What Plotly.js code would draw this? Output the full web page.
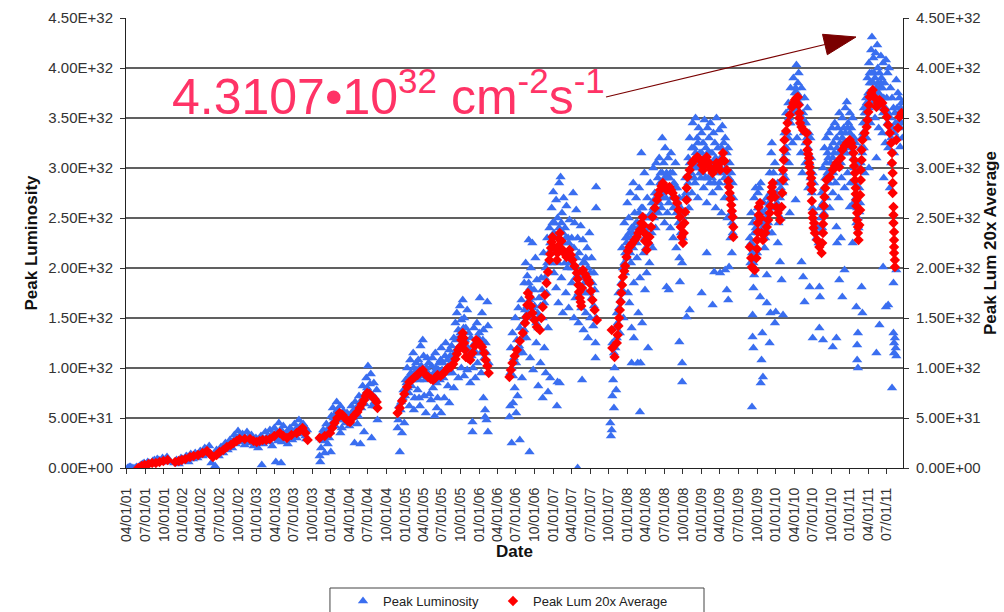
<!DOCTYPE html>
<html>
<head>
<meta charset="utf-8">
<script src="https://cdn.plot.ly/plotly-3.0.1.min.js"></script>
<style>
  html, body { margin: 0; padding: 0; background: #ffffff; }
  #chart { width: 1004px; height: 612px; }
</style>
</head>
<body>
<div id="chart"></div>
<script>
// Luminosity values are kept in units of 1e32 cm^-2 s^-1; dates as decimal years.
const LUM_UNIT = 1e32;
const RECORD_PEAK = 4.3107;          // highest single-store peak luminosity
const RECORD_DATE = 2011.30;

// ---- Peak luminosity per store: [decimal year, luminosity / 1e32] ----
const peakRun2001_03 = [
  [2001.26,0.00],[2001.30,0.01],[2001.33,0.00],[2001.36,0.00],[2001.42,0.02],[2001.46,0.04],[2001.50,0.03],[2001.53,0.06],
  [2001.57,0.04],[2001.60,0.07],[2001.63,0.05],[2001.66,0.09],[2001.70,0.06],[2001.73,0.10],[2001.76,0.08],[2001.79,0.11],[2001.81,0.06],
  [2001.28,0.01],[2001.38,0.01],[2001.44,0.03],[2001.48,0.05],[2001.55,0.05],[2001.62,0.08],[2001.68,0.08],[2001.75,0.06],[2001.78,0.09],
  [2001.89,0.05],[2001.92,0.08],[2001.95,0.04],[2001.98,0.10],[2002.02,0.07],[2002.05,0.12],[2002.08,0.06],[2002.11,0.14],
  [2002.14,0.09],[2002.17,0.15],[2002.20,0.10],[2002.24,0.17],[2002.27,0.12],[2002.30,0.20],[2002.33,0.13],[2002.36,0.22],
  [2002.39,0.05],[2002.44,0.02],[2002.43,0.14],
  [2001.91,0.06],[2001.97,0.08],[2002.00,0.09],[2002.04,0.10],[2002.07,0.11],[2002.10,0.09],[2002.13,0.12],[2002.16,0.12],
  [2002.19,0.13],[2002.22,0.14],[2002.26,0.15],[2002.29,0.16],[2002.32,0.18],[2002.35,0.16],
  [2002.46,0.18],[2002.49,0.12],[2002.52,0.21],[2002.55,0.15],[2002.58,0.25],[2002.61,0.18],[2002.64,0.28],[2002.67,0.20],
  [2002.70,0.33],[2002.72,0.24],[2002.75,0.37],[2002.78,0.26],[2002.81,0.34],[2002.84,0.23],[2002.87,0.36],[2002.90,0.25],
  [2002.93,0.33],[2002.96,0.22],[2002.99,0.30],[2003.02,0.20],[2003.07,0.03],
  [2002.48,0.15],[2002.51,0.17],[2002.54,0.19],[2002.57,0.20],[2002.60,0.23],[2002.63,0.22],[2002.66,0.25],[2002.69,0.27],
  [2002.71,0.29],[2002.74,0.30],[2002.77,0.32],[2002.80,0.28],[2002.83,0.31],[2002.86,0.27],[2002.89,0.31],[2002.92,0.28],
  [2002.95,0.30],[2002.98,0.25],[2003.01,0.28],
  [2003.06,0.32],[2003.09,0.24],[2003.12,0.36],[2003.15,0.27],[2003.18,0.38],[2003.21,0.22],[2003.24,0.40],[2003.26,0.06],
  [2003.28,0.30],[2003.30,0.45],[2003.33,0.05],[2003.34,0.26],[2003.36,0.42],[2003.39,0.33],[2003.42,0.24],[2003.45,0.40],
  [2003.48,0.28],[2003.51,0.44],[2003.54,0.30],[2003.57,0.48],[2003.60,0.36],[2003.63,0.44],[2003.66,0.32],[2003.68,0.38],
  [2003.04,0.25],[2003.08,0.30],[2003.11,0.28],[2003.14,0.31],[2003.17,0.26],[2003.20,0.33],[2003.23,0.29],[2003.27,0.36],
  [2003.29,0.27],[2003.33,0.38],[2003.38,0.29],[2003.41,0.36],[2003.44,0.31],[2003.47,0.37],[2003.50,0.33],[2003.53,0.39],
  [2003.56,0.34],[2003.59,0.42],[2003.62,0.38],[2003.65,0.41],[2003.67,0.29]
];
const peakRun2004 = [
  [2003.85,0.12],[2003.86,0.06],[2003.87,0.20],[2003.89,0.28],[2003.90,0.38],[2003.92,0.15],[2003.94,0.44],[2003.96,0.24],
  [2003.98,0.30],[2004.00,0.16],
  [2004.01,0.52],[2004.03,0.60],[2004.06,0.42],[2004.08,0.66],[2004.10,0.48],[2004.13,0.62],[2004.15,0.40],[2004.17,0.57],
  [2004.20,0.45],[2004.13,0.35],
  [2004.22,0.55],[2004.25,0.42],[2004.28,0.62],[2004.30,0.50],[2004.33,0.66],[2004.36,0.44],[2004.38,0.72],[2004.41,0.60],
  [2004.43,0.82],[2004.46,0.64],[2004.48,0.90],[2004.50,1.02],[2004.52,0.76],[2004.54,0.94],[2004.56,0.62],[2004.58,0.85],
  [2004.60,0.70],[2004.62,0.78],[2004.63,0.48],[2004.55,0.30],[2004.45,0.36],[2004.40,0.24],[2004.32,0.25],
  [2003.86,0.30],[2003.88,0.34],[2003.91,0.27],[2003.93,0.36],[2003.95,0.32],[2003.97,0.40],[2003.99,0.36],[2004.02,0.45],
  [2004.04,0.50],[2004.07,0.55],[2004.09,0.58],[2004.11,0.53],[2004.14,0.50],[2004.16,0.48],[2004.18,0.52],[2004.21,0.49],
  [2004.23,0.47],[2004.26,0.52],[2004.27,0.45],[2004.29,0.55],[2004.31,0.58],[2004.34,0.55],[2004.35,0.60],[2004.37,0.52],
  [2004.39,0.64],[2004.42,0.68],[2004.44,0.70],[2004.47,0.75],[2004.49,0.80],[2004.51,0.70],[2004.53,0.84],[2004.57,0.72],
  [2004.59,0.66],[2004.61,0.62]
];
const peakRun2005_06 = [
  [2004.90,0.40],[2004.91,0.48],[2004.93,0.16],[2004.94,0.58],[2004.96,0.35],[2004.97,0.70],[2004.99,0.45],
  [2005.01,0.88],[2005.03,1.00],[2005.05,0.75],[2005.07,1.08],[2005.09,0.82],[2005.11,1.15],[2005.13,0.70],[2005.15,1.05],[2005.17,0.78],
  [2005.21,1.22],[2005.24,1.28],[2005.27,0.88],[2005.30,1.10],[2005.33,0.74],[2005.36,1.02],[2005.38,0.80],[2005.41,1.15],
  [2005.44,0.70],[2005.46,1.05],
  [2005.20,0.62],[2005.28,0.55],[2005.40,0.52],[2005.49,0.55],
  [2005.49,1.20],[2005.52,0.90],[2005.55,1.25],[2005.58,0.82],[2005.61,1.12],[2005.64,0.95],[2005.66,1.30],
  [2005.68,1.45],[2005.70,1.55],[2005.72,1.38],[2005.74,1.62],[2005.76,1.48],[2005.78,1.68],[2005.80,1.50],[2005.82,1.40],
  [2005.84,1.58],[2005.86,1.35],
  [2006.01,1.70],[2006.04,1.55],[2006.11,1.66],[2006.12,1.42],
  [2005.84,0.98],[2005.88,0.85],[2005.92,1.00],[2005.95,0.90],[2005.98,1.05],[2006.03,0.95],[2006.06,0.70],[2006.08,0.58],[2006.10,0.48],
  [2005.91,0.36],[2006.12,0.36],[2006.08,0.51],[2005.91,0.46],
  [2005.89,1.30],[2005.93,1.40],[2005.97,1.45],[2006.00,1.35],[2006.06,1.38],[2006.09,1.25],
  [2005.06,0.62],[2005.12,0.58],[2005.19,0.70],[2005.26,0.72],[2005.35,0.68],[2005.43,0.60],[2005.53,0.70],[2005.60,0.65],
  [2005.66,0.80],[2005.72,0.90],[2005.76,1.00],[2005.80,0.92],
  [2004.92,0.62],[2004.95,0.66],[2004.98,0.78],[2005.00,0.72],[2005.02,0.85],[2005.04,0.80],[2005.06,0.92],[2005.08,0.95],
  [2005.10,0.88],[2005.12,1.00],[2005.14,0.92],[2005.16,0.98],[2005.18,1.08],[2005.19,0.88],[2005.22,1.02],[2005.23,0.92],
  [2005.25,1.12],[2005.26,0.95],[2005.29,1.00],[2005.31,0.95],[2005.32,1.05],[2005.34,0.90],[2005.37,1.10],[2005.39,0.95],
  [2005.42,1.00],[2005.43,0.85],[2005.45,0.98],[2005.47,0.88],[2005.48,1.08],[2005.50,0.98],[2005.51,1.05],[2005.53,0.95],
  [2005.54,1.12],[2005.56,1.00],[2005.57,1.08],[2005.59,0.95],[2005.60,1.18],[2005.62,1.05],[2005.63,1.22],[2005.65,1.10],
  [2005.67,1.15],[2005.69,1.28],[2005.71,1.20],[2005.73,1.30],[2005.75,1.35],[2005.77,1.25],[2005.79,1.40],[2005.81,1.28],
  [2005.83,1.22],[2005.85,1.15],[2005.87,1.18],[2005.90,1.12],[2005.94,1.25],[2005.96,1.15],[2005.99,1.30],[2006.02,1.15],
  [2006.05,1.28],[2006.07,1.10],[2006.10,1.15],[2006.13,1.05]
];
const peakRun2006_07 = [
  [2006.41,0.51],[2006.42,0.62],[2006.44,0.25],[2006.46,0.65],[2006.48,0.80],[2006.50,0.55],[2006.52,0.72],[2006.55,0.28],
  [2006.58,0.90],[2006.68,0.16],
  [2006.43,1.20],[2006.45,1.35],[2006.47,1.10],[2006.49,1.50],[2006.51,1.28],[2006.53,1.60],[2006.55,1.40],[2006.57,1.68],[2006.59,1.15],
  [2006.61,1.85],[2006.63,2.05],[2006.65,1.92],[2006.67,2.28],[2006.70,2.00],[2006.72,2.25],[2006.74,1.78],[2006.76,2.10],[2006.78,1.88],
  [2006.64,1.30],[2006.69,1.10],[2006.73,0.98],[2006.77,1.25],[2006.80,0.82],[2006.83,1.05],[2006.86,0.70],[2006.88,1.20],
  [2006.90,0.95],[2006.93,1.40],[2006.96,0.90],[2007.05,0.62],[2007.09,0.85],
  [2006.81,1.70],[2006.84,1.90],[2006.87,2.15],[2006.90,2.00],[2006.92,2.30],
  [2006.95,2.40],[2006.98,2.60],[2007.00,2.76],[2007.02,2.45],[2007.04,2.68],[2007.06,2.50],[2007.08,2.85],[2007.10,2.91],
  [2007.12,2.55],[2007.14,2.70],[2007.16,2.40],[2007.18,2.62],[2007.20,2.30],[2007.22,2.48],[2007.24,2.20],[2007.27,2.75],
  [2007.29,2.45],[2007.31,2.58],[2007.33,2.30],[2007.35,2.15],[2007.37,2.42],[2007.40,2.28],[2007.43,2.05],[2007.46,2.20],
  [2007.49,2.35],[2007.52,2.10],[2007.55,1.95],[2007.58,2.81],[2007.58,2.60],
  [2007.01,1.95],[2007.04,1.80],[2007.07,1.65],[2007.11,1.90],[2007.13,1.55],[2007.17,1.75],[2007.21,1.60],[2007.25,1.85],
  [2007.28,1.50],[2007.30,1.70],[2007.34,1.45],[2007.38,1.60],[2007.41,1.38],[2007.44,1.55],[2007.47,1.30],[2007.50,1.50],
  [2007.54,1.42],[2007.57,1.25],
  [2007.57,1.10],[2007.39,0.88],[2007.33,0.00],[2006.93,0.76],[2007.06,0.86],
  [2006.42,0.95],[2006.44,1.00],[2006.46,0.92],[2006.50,1.05],[2006.52,1.15],[2006.54,1.22],[2006.56,1.18],[2006.58,1.30],
  [2006.60,1.45],[2006.61,1.38],[2006.62,1.58],[2006.63,1.52],[2006.65,1.62],[2006.66,1.55],[2006.67,1.85],[2006.68,1.68],
  [2006.69,1.80],[2006.71,1.70],[2006.72,1.60],[2006.73,1.50],[2006.75,1.62],[2006.77,1.45],[2006.79,1.55],[2006.80,1.40],
  [2006.82,1.52],[2006.83,1.62],[2006.85,1.78],[2006.86,1.50],[2006.88,1.65],[2006.89,1.90],[2006.91,1.75],[2006.92,2.05],
  [2006.94,2.15],[2006.96,2.25],[2006.97,2.05],[2006.99,2.45],[2007.00,2.20],[2007.01,2.35],[2007.03,2.15],[2007.05,2.30],
  [2007.07,2.05],[2007.08,2.40],[2007.10,2.20],[2007.11,2.45],[2007.13,2.35],[2007.15,2.25],[2007.16,2.05],[2007.17,2.30],
  [2007.19,2.00],[2007.21,2.25],[2007.23,2.05],[2007.25,2.30],[2007.26,2.00],[2007.28,2.20],[2007.30,1.90],[2007.32,2.10],
  [2007.34,1.75],[2007.36,1.90],[2007.38,1.78],[2007.40,2.05],[2007.42,1.85],[2007.44,2.10],[2007.45,1.75],[2007.47,2.00],
  [2007.49,1.75],[2007.50,1.95],[2007.52,1.70],[2007.53,1.85],[2007.55,1.62],[2007.56,1.78],[2007.58,1.50]
];
const peakRun2008_09 = [
  [2007.77,0.45],[2007.78,0.32],[2007.79,0.38],[2007.80,0.72],[2007.81,0.88],[2007.82,0.60],[2007.83,1.00],[2007.85,0.78],
  [2007.84,1.40],[2007.86,1.55],[2007.88,1.75],[2007.90,1.35],[2007.92,1.85],[2007.95,1.50],
  [2007.93,2.20],[2007.96,2.45],[2007.98,2.30],[2008.00,2.65],[2008.02,2.50],[2008.04,2.75],[2008.06,2.40],[2008.08,2.85],
  [2008.10,2.55],[2008.12,2.70],[2008.14,2.45],[2008.16,2.80],[2008.19,3.15],[2008.21,2.60],[2008.23,2.95],[2008.25,2.50],
  [2008.27,2.70],[2008.29,2.40],[2008.31,2.85],[2008.33,2.65],[2008.35,3.00],[2008.37,2.75],[2008.39,3.05],[2008.41,2.90],
  [2008.43,3.10],[2008.45,2.95],[2008.47,3.30],[2008.49,3.05],[2008.51,3.20],[2008.53,2.95],[2008.55,3.10],[2008.57,2.90],
  [2008.59,3.15],[2008.61,2.95],[2008.63,2.85],[2008.65,3.05],[2008.67,2.80],
  [2007.97,1.95],[2008.01,1.75],[2008.05,2.05],[2008.09,1.85],[2008.13,2.10],[2008.17,1.90],[2008.22,2.15],[2008.26,1.95],
  [2008.30,2.05],[2008.34,2.20],[2008.38,2.40],[2008.42,2.55],[2008.46,2.60],[2008.50,2.45],[2008.54,2.55],[2008.58,2.40],
  [2008.62,2.30],[2008.66,2.20],[2008.70,2.10],[2008.74,2.05],
  [2008.03,1.65],[2008.06,1.40],[2008.09,1.30],[2008.15,1.55],[2008.20,1.45],[2008.24,1.78],[2008.28,1.20],[2008.18,1.05],
  [2008.06,1.05],[2008.14,1.05],[2008.17,0.56],
  [2008.53,1.81],[2008.56,1.78],[2008.70,1.26],[2008.74,1.05],[2008.74,0.86],[2008.71,1.86],[2008.80,1.51],
  [2008.72,2.60],[2008.76,2.70],[2008.78,2.90],
  [2008.82,3.10],[2008.84,3.30],[2008.86,2.95],[2008.88,3.45],[2008.90,3.20],[2008.92,3.50],[2008.94,3.30],[2008.96,3.40],
  [2008.98,3.15],[2009.00,3.35],[2009.02,3.25],[2009.04,3.48],[2009.06,3.20],[2009.08,3.40],[2009.10,3.30],[2009.12,3.45],
  [2009.14,3.15],[2009.16,3.35],[2009.18,3.25],[2009.20,3.50],[2009.22,3.20],[2009.24,3.38],[2009.26,3.10],[2009.28,3.42],
  [2009.30,3.25],[2009.32,3.30],[2009.34,3.15],[2009.36,3.20],[2009.38,3.05],[2009.40,2.95],[2009.42,2.85],[2009.43,2.70],
  [2008.83,2.60],[2008.87,2.75],[2008.91,2.85],[2008.95,2.70],[2008.99,2.90],[2009.03,2.80],[2009.07,2.65],[2009.11,2.85],
  [2009.15,2.75],[2009.19,2.60],[2009.23,2.80],[2009.27,2.55],[2009.31,2.70],[2009.35,2.50],[2009.39,2.30],[2009.41,2.15],
  [2008.84,1.58],[2009.00,1.75],[2009.07,2.15],[2009.15,1.63],[2009.17,1.96],[2009.25,1.95],[2009.32,1.98],[2009.34,1.78],
  [2009.36,1.68],[2009.37,2.01],
  [2007.80,1.25],[2007.82,1.15],[2007.84,1.20],[2007.86,1.30],[2007.87,1.45],[2007.89,1.60],[2007.91,1.68],[2007.93,1.78],
  [2007.94,2.00],[2007.96,2.05],[2007.97,2.15],[2007.99,2.25],[2008.00,2.10],[2008.01,2.30],[2008.03,2.35],[2008.04,2.15],
  [2008.05,2.30],[2008.07,2.35],[2008.08,2.20],[2008.09,2.40],[2008.11,2.30],[2008.12,2.45],[2008.13,2.25],[2008.15,2.40],
  [2008.16,2.55],[2008.18,2.35],[2008.19,2.60],[2008.20,2.45],[2008.22,2.40],[2008.24,2.30],[2008.25,2.20],[2008.27,2.35],
  [2008.28,2.50],[2008.30,2.25],[2008.32,2.55],[2008.33,2.35],[2008.35,2.60],[2008.36,2.50],[2008.38,2.70],[2008.40,2.55],
  [2008.41,2.75],[2008.43,2.65],[2008.44,2.85],[2008.46,2.75],[2008.47,2.95],[2008.48,2.70],[2008.50,2.90],[2008.52,2.70],
  [2008.54,2.90],[2008.56,2.65],[2008.58,2.95],[2008.60,2.70],[2008.62,2.60],[2008.64,2.80],[2008.66,2.55],[2008.68,2.65],
  [2008.69,2.45],[2008.70,2.70],[2008.72,2.35],[2008.74,2.50],[2008.75,2.30],[2008.77,2.55],[2008.79,2.75],[2008.81,2.70],
  [2008.82,2.85],[2008.84,3.05],[2008.85,2.90],[2008.87,3.20],[2008.89,3.00],[2008.90,2.90],[2008.92,3.15],[2008.93,3.00],
  [2008.95,3.25],[2008.97,3.05],[2008.98,2.95],[2009.00,3.15],[2009.01,2.95],[2009.03,3.10],[2009.05,2.90],[2009.06,3.00],
  [2009.08,3.15],[2009.09,2.90],[2009.11,3.15],[2009.13,3.05],[2009.14,2.90],[2009.16,3.05],[2009.17,2.85],[2009.19,3.10],
  [2009.21,2.95],[2009.22,3.05],[2009.24,2.85],[2009.26,3.00],[2009.27,3.20],[2009.29,2.95],[2009.30,3.05],[2009.31,2.90],
  [2009.33,3.00],[2009.35,2.85],[2009.37,2.90],[2009.38,2.70],[2009.40,2.55],[2009.41,2.45],[2009.42,2.35]
];
const peakRun2009_11 = [
  [2009.68,0.61],[2009.69,1.31],[2009.70,1.20],[2009.69,1.53],[2009.70,1.80],[2009.71,1.93],[2009.79,1.71],[2009.81,1.08],
  [2009.82,1.35],[2009.80,0.85],[2009.83,0.91],[2009.88,1.93],[2009.88,1.65],[2009.92,1.25],[2009.93,1.55],[2009.99,1.45],
  [2010.00,1.56],[2010.06,2.06],[2010.08,1.88],[2010.10,1.53],[2010.35,2.06],[2010.37,1.91],[2010.39,1.66],[2010.46,1.81],[2010.50,1.30],
  [2009.65,2.30],[2009.67,2.55],[2009.69,2.45],[2009.71,2.70],[2009.73,2.80],[2009.74,2.50],[2009.76,2.75],[2009.78,2.60],
  [2009.80,2.85],[2009.82,2.40],[2009.84,2.65],[2009.86,2.30],[2009.88,2.70],[2009.90,2.45],[2009.92,2.95],[2009.94,3.15],
  [2009.95,3.25],[2009.97,2.95],[2009.99,3.05],[2010.01,2.75],[2010.03,2.85],[2010.05,2.60],[2010.07,2.80],[2009.75,2.15],
  [2009.85,2.20],[2009.95,2.35],[2010.03,2.25],
  [2010.11,3.10],[2010.12,3.35],[2010.14,3.55],[2010.15,3.20],[2010.17,3.65],[2010.19,3.45],[2010.20,3.80],[2010.22,3.60],
  [2010.24,3.90],[2010.26,3.75],[2010.28,4.03],[2010.30,3.85],[2010.31,3.95],[2010.33,3.70],[2010.35,3.80],[2010.37,3.55],
  [2010.39,3.70],[2010.41,3.45],[2010.43,3.60],[2010.45,3.35],[2010.47,3.30],[2010.48,3.10],[2010.50,2.95],[2010.52,2.85],
  [2010.13,2.90],[2010.18,3.05],[2010.23,3.25],[2010.29,3.30],[2010.34,3.15],[2010.40,3.05],[2010.44,2.80],[2010.19,2.55],
  [2010.27,2.68],[2010.36,2.95],
  [2010.60,2.60],[2010.62,2.75],[2010.64,3.00],[2010.66,3.20],[2010.68,3.30],[2010.70,3.15],[2010.72,3.35],[2010.74,3.20],
  [2010.76,3.40],[2010.78,3.25],[2010.80,3.45],[2010.82,3.30],[2010.84,3.40],[2010.86,3.55],[2010.88,3.35],[2010.90,3.50],
  [2010.92,3.40],[2010.94,3.60],[2010.96,3.66],[2010.98,3.45],[2011.00,3.55],[2011.02,3.40],[2011.04,3.50],[2011.06,3.30],
  [2011.08,3.25],[2011.10,3.05],
  [2010.61,2.35],[2010.65,2.55],[2010.69,2.70],[2010.73,2.60],[2010.77,2.75],[2010.81,2.85],[2010.85,2.70],[2010.89,2.90],
  [2010.93,2.80],[2010.97,2.95],[2011.01,2.85],[2011.05,2.65],[2011.09,2.45],
  [2010.59,1.81],[2010.60,1.71],[2010.59,1.40],[2010.64,1.28],[2010.77,1.21],[2010.82,1.30],[2010.86,1.88],[2010.90,1.71],
  [2010.93,1.98],[2010.82,2.41],[2010.83,2.25],[2010.88,2.30],[2011.04,2.25],[2011.09,1.61],[2011.11,1.35],[2011.10,1.23],
  [2011.10,1.08],[2011.11,1.00],[2011.16,1.81],[2011.17,1.55],[2011.13,2.56],[2011.14,2.65],[2011.00,2.61],
  [2011.18,3.35],[2011.20,3.55],[2011.22,3.70],[2011.24,3.90],[2011.26,4.05],[2011.27,3.85],[2011.29,4.18],[RECORD_DATE,RECORD_PEAK],
  [2011.32,4.10],[2011.33,3.95],[2011.35,4.15],[2011.37,4.23],[2011.38,4.00],[2011.40,3.95],[2011.42,4.12],[2011.43,3.90],
  [2011.45,4.05],[2011.47,3.85],[2011.49,4.08],[2011.51,3.95],[2011.53,4.00],[2011.55,3.80],[2011.57,3.70],[2011.59,3.60],
  [2011.61,3.55],[2011.63,3.88],[2011.65,3.75],[2011.67,3.70],[2011.69,3.60],[2011.70,3.45],[2011.71,3.30],[2011.68,3.21],
  [2011.15,3.05],[2011.19,3.20],[2011.23,3.30],[2011.28,3.45],[2011.34,3.50],[2011.39,3.40],[2011.44,3.35],[2011.48,3.25],
  [2011.52,3.20],[2011.56,3.05],[2011.60,3.15],[2011.64,3.30],[2011.20,2.95],[2011.26,3.00],[2011.36,3.10],[2011.46,2.90],[2011.54,2.80],
  [2011.36,1.15],[2011.40,1.43],[2011.49,1.61],[2011.52,1.63],[2011.45,2.01],[2011.59,1.85],[2011.59,1.35],[2011.60,1.25],
  [2011.60,1.15],[2011.61,1.30],[2011.62,1.20],[2011.63,1.12],[2011.57,0.80],[2011.63,1.98],
  [2009.66,2.05],[2009.67,2.25],[2009.68,2.15],[2009.70,2.05],[2009.71,2.35],[2009.72,2.20],[2009.73,2.40],[2009.75,2.45],
  [2009.76,2.60],[2009.77,2.35],[2009.78,2.80],[2009.79,2.50],[2009.81,2.55],[2009.83,2.45],[2009.84,2.35],[2009.85,2.55],
  [2009.87,2.50],[2009.89,2.60],[2009.90,2.35],[2009.91,2.65],[2009.93,2.75],[2009.94,2.60],[2009.96,2.70],[2009.98,2.85],
  [2010.00,2.60],[2010.02,2.65],[2010.04,2.45],[2010.06,2.70],[2010.07,2.50],[2010.09,2.75],[2010.10,2.95],[2010.11,2.85],
  [2010.13,3.20],[2010.14,3.15],[2010.16,3.35],[2010.17,3.30],[2010.18,3.50],[2010.20,3.45],[2010.21,3.60],[2010.23,3.55],
  [2010.24,3.65],[2010.25,3.55],[2010.27,3.80],[2010.28,3.60],[2010.29,3.75],[2010.30,3.55],[2010.32,3.65],[2010.33,3.50],
  [2010.34,3.45],[2010.36,3.50],[2010.38,3.35],[2010.39,3.45],[2010.40,3.25],[2010.42,3.30],[2010.43,3.15],[2010.44,3.20],
  [2010.46,3.05],[2010.47,2.90],[2010.49,2.75],[2010.50,2.60],[2010.52,2.55],[2010.53,2.40],[2010.55,2.30],[2010.57,2.40],
  [2010.58,2.25],[2010.60,2.40],[2010.61,2.50],[2010.63,2.40],[2010.64,2.65],[2010.65,2.80],[2010.67,2.90],[2010.68,3.05],
  [2010.70,2.95],[2010.71,3.10],[2010.72,2.85],[2010.74,3.05],[2010.75,2.90],[2010.77,3.10],[2010.78,2.95],[2010.79,3.15],
  [2010.81,3.05],[2010.83,3.20],[2010.84,3.00],[2010.85,3.15],[2010.87,3.25],[2010.88,3.05],[2010.90,3.30],[2010.91,3.15],
  [2010.92,3.25],[2010.94,3.35],[2010.95,3.15],[2010.97,3.40],[2010.99,3.20],[2011.00,3.35],[2011.02,3.15],[2011.03,3.30],
  [2011.05,3.10],[2011.06,3.00],[2011.07,2.85],[2011.08,2.70],[2011.10,2.60],[2011.11,2.50],[2011.12,2.40],[2011.13,2.80],
  [2011.14,3.00],[2011.15,3.20],[2011.16,3.30],[2011.17,3.15],[2011.18,3.45],[2011.19,3.60],[2011.21,3.45],[2011.22,3.55],
  [2011.23,3.65],[2011.24,3.50],[2011.25,3.75],[2011.26,3.60],[2011.27,3.95],[2011.28,3.70],[2011.29,3.85],[2011.30,3.95],
  [2011.31,3.65],[2011.32,3.85],[2011.33,3.75],[2011.34,3.90],[2011.36,3.80],[2011.37,3.70],[2011.38,3.85],[2011.39,3.75],
  [2011.40,3.80],[2011.41,3.60],[2011.42,3.85],[2011.43,3.70],[2011.44,3.80],[2011.45,3.55],[2011.46,3.70],[2011.48,3.60],
  [2011.50,3.70],[2011.51,3.45],[2011.52,3.55],[2011.53,3.35],[2011.55,3.50],[2011.56,3.30],[2011.58,3.40],[2011.60,3.35],
  [2011.62,3.45],[2011.64,3.60],[2011.66,3.45],[2011.67,3.55],[2011.69,3.40],[2011.70,3.65]
];

// ---- 20-store running average of the peak luminosity: [decimal year, luminosity / 1e32] ----
const avgRun2001_03 = [
  [2001.40,0.00],[2001.45,0.02],[2001.49,0.03],[2001.54,0.04],[2001.59,0.05],[2001.64,0.05],[2001.69,0.06],[2001.74,0.07],[2001.80,0.08],
  [2001.90,0.06],[2001.95,0.07],[2001.99,0.08],[2002.04,0.09],[2002.10,0.11],[2002.15,0.12],[2002.21,0.13],[2002.27,0.15],
  [2002.33,0.17],[2002.37,0.14],[2002.41,0.11],[2002.46,0.13],[2002.50,0.16],[2002.55,0.18],[2002.60,0.21],[2002.65,0.23],
  [2002.69,0.25],[2002.73,0.27],[2002.77,0.29],[2002.84,0.29],[2002.91,0.29],[2002.96,0.27],[2003.00,0.26],[2003.04,0.27],
  [2003.08,0.28],[2003.13,0.28],[2003.18,0.29],[2003.24,0.32],[2003.31,0.35],[2003.36,0.32],[2003.41,0.30],[2003.47,0.33],
  [2003.54,0.35],[2003.58,0.37],[2003.62,0.40],[2003.66,0.35],[2003.69,0.28]
];
const avgRun2004 = [
  [2003.85,0.30],[2003.92,0.32],[2003.99,0.35],[2004.02,0.40],[2004.05,0.45],[2004.09,0.50],[2004.12,0.55],[2004.16,0.53],
  [2004.19,0.50],[2004.23,0.47],[2004.26,0.46],[2004.29,0.50],[2004.32,0.53],[2004.36,0.56],[2004.39,0.60],[2004.42,0.64],
  [2004.45,0.68],[2004.47,0.72],[2004.49,0.75],[2004.52,0.74],[2004.55,0.72],[2004.59,0.69],[2004.62,0.66],[2004.63,0.60]
];
const avgRun2005_06 = [
  [2004.90,0.55],[2004.93,0.60],[2004.96,0.67],[2004.99,0.74],[2005.03,0.81],[2005.06,0.86],[2005.09,0.88],[2005.13,0.91],
  [2005.17,0.93],[2005.20,0.96],[2005.24,0.98],[2005.27,0.94],[2005.31,0.91],[2005.35,0.89],[2005.38,0.88],[2005.41,0.90],
  [2005.44,0.93],[2005.48,0.92],[2005.51,0.94],[2005.55,0.97],[2005.58,1.00],[2005.62,1.01],[2005.65,1.04],[2005.68,1.09],
  [2005.70,1.14],[2005.72,1.18],[2005.74,1.21],[2005.76,1.28],[2005.77,1.31],[2005.78,1.35],[2005.79,1.30],[2005.80,1.25],
  [2005.81,1.18],[2005.82,1.11],[2005.85,1.10],[2005.88,1.08],[2005.91,1.15],[2005.94,1.22],[2005.96,1.28],[2005.99,1.26],
  [2006.02,1.23],[2006.04,1.21],[2006.07,1.15],[2006.09,1.08],[2006.11,1.02],[2006.13,0.95]
];
const avgRun2006_07 = [
  [2006.41,0.91],[2006.43,0.98],[2006.45,1.05],[2006.48,1.12],[2006.51,1.18],[2006.55,1.27],[2006.59,1.35],[2006.62,1.45],
  [2006.64,1.51],[2006.65,1.63],[2006.66,1.75],[2006.68,1.71],[2006.70,1.62],[2006.72,1.55],[2006.75,1.48],[2006.78,1.41],
  [2006.82,1.38],[2006.84,1.50],[2006.86,1.61],[2006.89,1.73],[2006.91,1.85],[2006.93,1.96],[2006.95,2.08],[2006.96,2.14],
  [2006.97,2.20],[2006.98,2.26],[2006.99,2.31],[2007.02,2.20],[2007.05,2.08],[2007.06,2.15],[2007.07,2.22],[2007.08,2.29],
  [2007.09,2.35],[2007.11,2.27],[2007.13,2.18],[2007.16,2.14],[2007.18,2.11],[2007.20,2.15],[2007.22,2.18],[2007.24,2.13],
  [2007.26,2.08],[2007.29,2.02],[2007.32,1.95],[2007.33,1.89],[2007.34,1.83],[2007.35,1.76],[2007.36,1.70],[2007.37,1.66],
  [2007.38,1.62],[2007.39,1.80],[2007.40,1.98],[2007.43,1.94],[2007.45,1.91],[2007.47,1.88],[2007.49,1.85],[2007.51,1.77],
  [2007.53,1.68],[2007.56,1.58],[2007.59,1.48]
];
const avgRun2008_09 = [
  [2007.79,1.38],[2007.80,1.20],[2007.83,1.11],[2007.86,1.25],[2007.87,1.33],[2007.88,1.42],[2007.89,1.50],[2007.90,1.58],
  [2007.91,1.66],[2007.92,1.75],[2007.93,1.83],[2007.94,1.91],[2007.96,1.97],[2007.97,2.02],[2007.99,2.11],[2008.01,2.17],
  [2008.03,2.21],[2008.05,2.23],[2008.07,2.25],[2008.10,2.28],[2008.13,2.31],[2008.15,2.35],[2008.17,2.38],[2008.19,2.45],
  [2008.21,2.51],[2008.22,2.43],[2008.23,2.35],[2008.24,2.27],[2008.26,2.18],[2008.28,2.25],[2008.30,2.31],[2008.32,2.41],
  [2008.34,2.51],[2008.37,2.60],[2008.40,2.68],[2008.42,2.73],[2008.44,2.78],[2008.46,2.82],[2008.48,2.85],[2008.51,2.81],
  [2008.53,2.78],[2008.55,2.80],[2008.57,2.81],[2008.59,2.78],[2008.61,2.75],[2008.64,2.70],[2008.67,2.65],[2008.69,2.58],
  [2008.71,2.51],[2008.72,2.41],[2008.73,2.31],[2008.75,2.25],[2008.76,2.35],[2008.77,2.45],[2008.78,2.56],[2008.80,2.68],
  [2008.80,2.80],[2008.81,2.91],[2008.84,2.98],[2008.87,3.05],[2008.90,3.08],[2008.94,3.11],[2008.96,3.10],[2008.98,3.08],
  [2009.00,3.03],[2009.02,2.98],[2009.05,3.05],[2009.07,3.11],[2009.09,3.06],[2009.11,3.01],[2009.13,2.98],[2009.15,2.95],
  [2009.18,3.00],[2009.20,3.05],[2009.22,3.02],[2009.25,2.98],[2009.27,3.07],[2009.29,3.15],[2009.31,3.07],[2009.34,2.98],
  [2009.36,2.87],[2009.37,2.81],[2009.38,2.75],[2009.39,2.69],[2009.40,2.63],[2009.41,2.57],[2009.42,2.51],[2009.43,2.41],
  [2009.43,2.31]
];
const avgRun2009_11 = [
  [2009.65,2.21],[2009.67,2.10],[2009.68,2.01],[2009.70,1.99],[2009.72,1.98],[2009.74,2.10],[2009.75,2.19],[2009.75,2.28],
  [2009.76,2.36],[2009.76,2.45],[2009.77,2.53],[2009.77,2.61],[2009.79,2.65],[2009.80,2.50],[2009.81,2.35],[2009.83,2.28],
  [2009.86,2.35],[2009.88,2.41],[2009.90,2.48],[2009.92,2.55],[2009.93,2.62],[2009.94,2.70],[2009.95,2.76],[2009.95,2.81],
  [2009.96,2.85],[2009.99,2.71],[2010.01,2.61],[2010.03,2.55],[2010.06,2.48],[2010.08,2.61],[2010.09,2.75],[2010.10,2.88],
  [2010.10,2.98],[2010.11,3.08],[2010.11,3.18],[2010.12,3.28],[2010.14,3.37],[2010.16,3.45],[2010.19,3.53],[2010.22,3.61],
  [2010.24,3.65],[2010.26,3.68],[2010.28,3.70],[2010.30,3.71],[2010.31,3.63],[2010.32,3.55],[2010.32,3.50],[2010.33,3.45],
  [2010.35,3.41],[2010.37,3.38],[2010.40,3.36],[2010.42,3.35],[2010.43,3.26],[2010.43,3.18],[2010.44,3.14],[2010.45,3.10],
  [2010.45,3.05],[2010.46,3.01],[2010.47,2.95],[2010.48,2.90],[2010.48,2.84],[2010.49,2.78],[2010.49,2.67],[2010.50,2.55],
  [2010.50,2.50],[2010.51,2.40],[2010.52,2.45],[2010.53,2.35],[2010.56,2.28],[2010.59,2.21],[2010.62,2.15],[2010.63,2.25],
  [2010.64,2.35],[2010.64,2.44],[2010.65,2.52],[2010.65,2.62],[2010.66,2.71],[2010.67,2.80],[2010.69,2.88],[2010.73,2.91],
  [2010.77,2.98],[2010.80,3.02],[2010.82,3.05],[2010.86,3.01],[2010.88,3.10],[2010.90,3.18],[2010.93,3.22],[2010.96,3.25],
  [2011.00,3.28],[2011.02,3.25],[2011.04,3.21],[2011.05,3.15],[2011.06,3.08],[2011.06,3.02],[2011.07,2.95],[2011.07,2.88],
  [2011.08,2.80],[2011.08,2.74],[2011.09,2.68],[2011.09,2.62],[2011.10,2.55],[2011.10,2.48],[2011.11,2.41],[2011.11,2.35],
  [2011.12,2.28],[2011.13,2.43],[2011.14,2.58],[2011.14,2.73],[2011.15,2.88],[2011.15,2.98],[2011.16,3.08],[2011.16,3.18],
  [2011.17,3.28],[2011.20,3.35],[2011.23,3.41],[2011.24,3.48],[2011.25,3.56],[2011.26,3.63],[2011.27,3.71],[2011.29,3.75],
  [2011.31,3.78],[2011.34,3.70],[2011.36,3.61],[2011.38,3.65],[2011.40,3.68],[2011.42,3.66],[2011.44,3.65],[2011.47,3.58],
  [2011.50,3.51],[2011.52,3.43],[2011.54,3.35],[2011.56,3.25],[2011.57,3.15],[2011.57,3.05],[2011.58,2.95],[2011.58,2.85],
  [2011.58,2.75],[2011.59,2.61],[2011.59,2.53],[2011.59,2.45],[2011.60,2.36],[2011.60,2.28],[2011.60,2.21],[2011.60,2.15],
  [2011.61,2.08],[2011.61,2.01],[2011.63,3.28],[2011.65,3.40],[2011.67,3.51],[2011.70,3.55]
];

// ---- Axis ticks ----
const lumTicks = [0, 0.5, 1, 1.5, 2, 2.5, 3, 3.5, 4, 4.5];
const dateRange = ['2001-03-28', '2011-09-20'];

function yearToDate(y) {
  const yr = Math.floor(y);
  const a = Date.UTC(yr, 0, 1), b = Date.UTC(yr + 1, 0, 1);
  return new Date(a + (y - yr) * (b - a)).toISOString().slice(0, 10);
}
function sciLabel(v) {
  if (v === 0) return '0.00E+00';
  const e = Math.floor(Math.log10(v) + 1e-9);
  const m = v / Math.pow(10, e);
  return m.toFixed(2) + 'E+' + String(e).padStart(2, '0');
}
function series(runs) {
  const pts = [].concat(...runs);
  return { x: pts.map(p => yearToDate(p[0])), y: pts.map(p => p[1] * LUM_UNIT) };
}

const peak = series([peakRun2001_03, peakRun2004, peakRun2005_06, peakRun2006_07, peakRun2008_09, peakRun2009_11]);
const avg = series([avgRun2001_03, avgRun2004, avgRun2005_06, avgRun2006_07, avgRun2008_09, avgRun2009_11]);

const BLUE = 'rgb(58,110,240)';
const RED = '#ff0000';
const FONT = '"Liberation Sans", Arial, sans-serif';

const traces = [
  { type: 'scatter', mode: 'markers', name: 'Peak Luminosity', x: peak.x, y: peak.y, yaxis: 'y',
    legend: 'legend', marker: { symbol: 'triangle-up', size: 9, color: BLUE } },
  { type: 'scatter', mode: 'markers', name: 'Peak Lum 20x Average', x: avg.x, y: avg.y, yaxis: 'y2',
    legend: 'legend2', marker: { symbol: 'diamond', size: 8, color: RED } }
];

const tickVals = lumTicks.map(v => v * LUM_UNIT);
const tickText = tickVals.map(sciLabel);
const yRange = [0, 4.5 * LUM_UNIT];

const titleFont = { family: FONT, size: 17, color: '#111', weight: 'bold' };
const legendFont = { family: FONT, size: 13, color: '#222' };

const layout = {
  width: 1004, height: 612,
  margin: { l: 126, r: 101, t: 18, b: 144, pad: 0, autoexpand: false },
  paper_bgcolor: '#ffffff', plot_bgcolor: '#ffffff',
  font: { family: FONT, size: 15, color: '#333' },
  hovermode: false,
  showlegend: true,
  legend: { orientation: 'h', x: 0.2793, xanchor: 'left', y: -0.2622, yanchor: 'top',
    font: legendFont, bgcolor: 'rgba(0,0,0,0)', itemwidth: 30 },
  legend2: { orientation: 'h', x: 0.4723, xanchor: 'left', y: -0.2622, yanchor: 'top',
    font: legendFont, bgcolor: 'rgba(0,0,0,0)', itemwidth: 30 },
  xaxis: {
    type: 'date', range: dateRange, tick0: '2001-04-01', dtick: 'M3', tickformat: '%m/%d/%y',
    tickangle: -90, ticks: 'outside', ticklen: 5, tickcolor: '#333', ticklabelstandoff: 8,
    showline: true, linecolor: '#222', linewidth: 1, showgrid: false, zeroline: false,
    tickfont: { family: FONT, size: 14, color: '#333' }, automargin: false,
    title: { text: 'Date', font: titleFont, standoff: 2 }
  },
  yaxis: {
    range: yRange, tickvals: tickVals, ticktext: tickText, ticks: 'outside', ticklen: 5, tickcolor: '#333',
    ticklabelstandoff: 4, showline: true, linecolor: '#222', linewidth: 1,
    showgrid: true, gridcolor: '#606060', gridwidth: 1.4, zeroline: false,
    tickfont: { family: FONT, size: 15, color: '#333' }, automargin: false,
    title: { text: 'Peak Luminosity', font: titleFont, standoff: 6 }
  },
  yaxis2: {
    overlaying: 'y', side: 'right', range: yRange, tickvals: tickVals, ticktext: tickText,
    ticks: 'outside', ticklen: 5, tickcolor: '#333', ticklabelstandoff: 4,
    showline: true, linecolor: '#222', linewidth: 1, showgrid: false, zeroline: false,
    tickfont: { family: FONT, size: 15, color: '#333' }, automargin: false,
    title: { text: 'Peak Lum 20x Average', font: titleFont, standoff: 4 }
  },
  annotations: [
    { xref: 'paper', yref: 'paper', x: 0.0566, y: 0.8333, xanchor: 'left', yanchor: 'middle',
      text: RECORD_PEAK.toFixed(4) + '•10<sup>32</sup> cm<sup>-2</sup>s<sup>-1</sup>',
      showarrow: false, font: { family: FONT, size: 50, color: '#ff3366' } }
  ],
  shapes: [
    // pointer from the label towards the record value
    { type: 'line', xref: 'paper', yref: 'paper', x0: 0.6178, y0: 0.8244, x1: 0.8995, y1: 0.9411,
      line: { color: '#7a0000', width: 1.2 } },
    { type: 'path', xref: 'paper', yref: 'paper',
      path: 'M0.9395,0.9578 L0.9026,0.9184 L0.8964,0.9638 Z',
      fillcolor: '#7a0000', line: { color: '#7a0000', width: 1 } },
    // legend frame
    { type: 'rect', xref: 'paper', yref: 'paper', x0: 0.2625, x1: 0.7439, y0: -0.36, y1: -0.2667,
      line: { color: '#444', width: 1 }, fillcolor: 'rgba(0,0,0,0)' }
  ]
};

Plotly.newPlot('chart', traces, layout, { staticPlot: true, displayModeBar: false });
</script>
</body>
</html>
